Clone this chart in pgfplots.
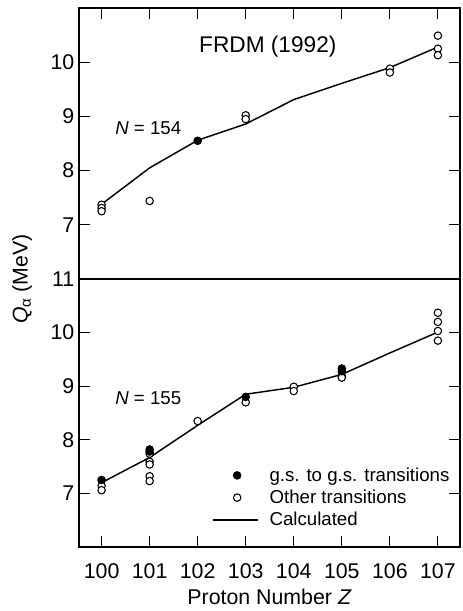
\documentclass[border=0pt]{standalone}
\usepackage{fontspec}
\setmainfont{Liberation Sans}
\usepackage{pgfplots}
\pgfplotsset{compat=1.18}
\pgfplotsset{
  panel/.style={
    scale only axis, width=285.75pt,
    xmin=99.53, xmax=107.46, ymin=6, ymax=11,
    xtick={100,...,107},
    tick align=inside, major tick length=8pt,
    tick style={black, line width=0.6pt},
    axis line style={line width=0.9pt},
    ytick pos=both, yticklabel pos=left,
    tick label style={font=\fontsize{16}{16}\selectfont},
    /pgf/number format/assume math mode=true,
    clip=false,
  },
  calc/.style={black, line width=1.1pt, mark=none},
  openm/.style={only marks, mark=*, mark size=2.8pt, mark options={fill=white, draw=black, line width=0.8pt}},
  fillm/.style={only marks, mark=*, mark size=2.8pt, mark options={fill=black, draw=black, line width=0.8pt}},
}
\begin{document}
\begin{tikzpicture}
% upper panel N=154
\begin{axis}[panel, at={(0pt,201pt)}, height=203.25pt,
  xtick pos=right, xticklabels={},
  ytick={7,8,9,10}]
\addplot[calc] coordinates {(100,7.38)(101,8.05)(102,8.56)(103,8.86)(104,9.31)(105,9.61)(106,9.90)(107,10.28)};
\addplot[openm] coordinates {(100,7.37)(100,7.31)(100,7.25)(101,7.44)(103,9.02)(103,8.95)(106,9.88)(106,9.81)(107,10.49)(107,10.25)(107,10.13)};
\addplot[fillm] coordinates {(102,8.55)};
\node[anchor=west, inner sep=0pt, font=\fontsize{14}{14}\selectfont] at (axis cs:100.28,8.79) {\textit{N} = 154};
\node[inner sep=0pt, font=\fontsize{17}{17}\selectfont] at (axis cs:103.46,10.28) {FRDM (1992)};
\end{axis}
% lower panel N=155
\begin{axis}[panel, at={(0pt,0pt)}, height=201pt,
  xtick pos=left,
  xticklabel style={yshift=-9pt},
  ytick={7,...,11},
  legend cell align=left,
  legend style={at={(0.339,0.317)}, anchor=north west, draw=none, fill=none,
    font=\fontsize{14}{14}\selectfont, row sep=1pt,
    /tikz/every odd column/.append style={column sep=6pt}}]
\addlegendimage{legend image code/.code={\draw[black,fill=black,line width=0.8pt] (18pt,0pt) circle (2.8pt);}}
\addlegendentry{g.s. to g.s. transitions}
\addlegendimage{legend image code/.code={\draw[black,fill=white,line width=0.8pt] (18pt,0pt) circle (2.8pt);}}
\addlegendentry{Other transitions}
\addlegendimage{legend image code/.code={\draw[black,line width=1.1pt] (0pt,0pt) -- (33.75pt,0pt);}}
\addlegendentry{Calculated}
\addplot[calc, forget plot] coordinates {(100,7.20)(101,7.67)(102,8.27)(103,8.85)(104,8.98)(105,9.22)(106,9.62)(107,10.01)};
\addplot[openm, forget plot] coordinates {(100,7.14)(100,7.06)(101,7.74)(101,7.59)(101,7.54)(101,7.32)(101,7.23)(102,8.35)(103,8.70)(104,8.99)(104,8.91)(105,9.19)(105,9.16)(107,10.37)(107,10.20)(107,10.03)(107,9.85)};
\addplot[fillm, forget plot] coordinates {(100,7.25)(101,7.82)(101,7.78)(103,8.80)(105,9.33)(105,9.28)};
\node[anchor=west, inner sep=0pt, font=\fontsize{14}{14}\selectfont] at (axis cs:100.28,8.78) {\textit{N} = 155};
\end{axis}
\node[rotate=90, font=\fontsize{16}{16}\selectfont] at (-42.75pt,201pt) {\textit{Q}\textsubscript{α} (MeV)};
\node[font=\fontsize{16}{16}\selectfont] at (142.9pt,-37.5pt) {Proton Number \textit{Z}};
\pgfresetboundingbox
\path (-59.25pt,-48pt) rectangle (287.25pt,410.25pt);
\end{tikzpicture}
\end{document}
